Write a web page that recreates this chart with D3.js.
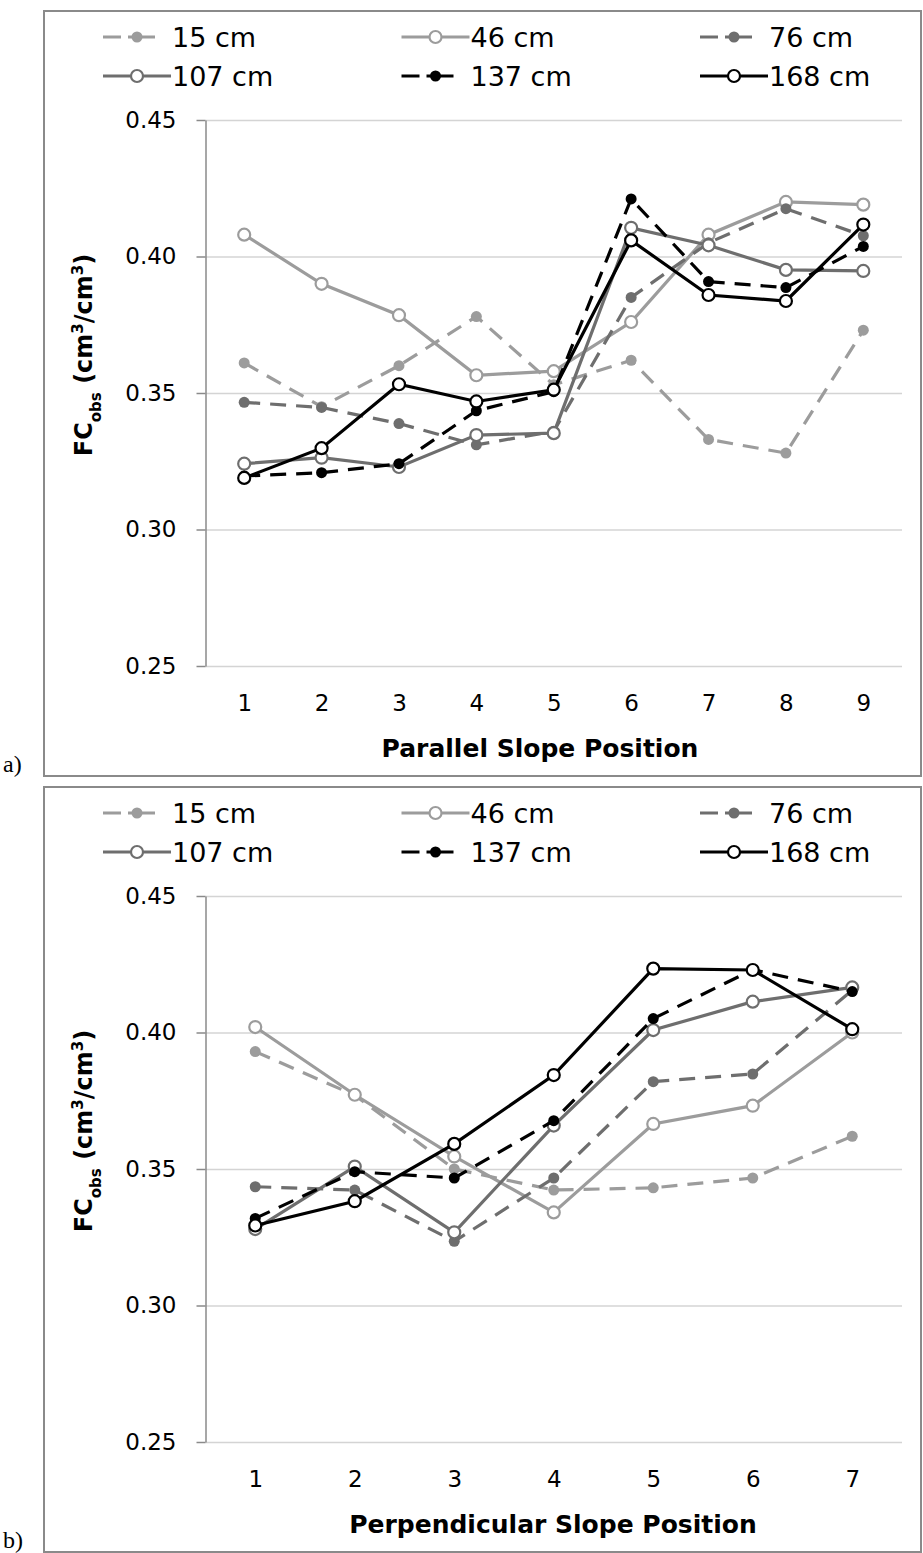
<!DOCTYPE html>
<meta charset="utf-8">
<title>FC obs by slope position</title>
<style>
  body { margin: 0; background: #fff; }
  text { font-family: "DejaVu Sans", sans-serif; fill: #000; }
</style>
<body>
<svg id="chart" width="923" height="1553"></svg>
<script src="https://d3js.org/d3.v7.min.js"></script>
<script>

// depths (legend order)
var depths = ["15 cm", "46 cm", "76 cm", "107 cm", "137 cm", "168 cm"];

// panel a: parallel slope positions
var parallelPositions = [1, 2, 3, 4, 5, 6, 7, 8, 9];
var par15  = [0.361, 0.345, 0.360, 0.378, 0.353, 0.362, 0.333, 0.328, 0.373];
var par46  = [0.408, 0.390, 0.3785, 0.3565, 0.358, 0.376, 0.408, 0.420, 0.419];
var par76  = [0.3466, 0.3447, 0.3388, 0.331, 0.336, 0.385, 0.405, 0.4175, 0.4076];
var par107 = [0.3241, 0.3263, 0.3229, 0.3346, 0.3353, 0.4105, 0.4041, 0.3951, 0.3947];
var par137 = [0.3196, 0.3208, 0.3241, 0.3435, 0.3505, 0.4211, 0.3908, 0.3886, 0.4037];
var par168 = [0.3189, 0.3298, 0.3532, 0.3469, 0.3512, 0.4059, 0.3859, 0.3837, 0.4117];

// panel b: perpendicular slope positions
var perpendicularPositions = [1, 2, 3, 4, 5, 6, 7];
var perp15  = [0.393, 0.377, 0.350, 0.3423, 0.3431, 0.3467, 0.362];
var perp46  = [0.402, 0.3772, 0.3546, 0.3341, 0.3665, 0.3732, 0.400];
var perp76  = [0.3435, 0.3423, 0.3235, 0.3467, 0.382, 0.3848, 0.4155];
var perp107 = [0.328, 0.3509, 0.3268, 0.3659, 0.4009, 0.4113, 0.4165];
var perp137 = [0.3319, 0.349, 0.3467, 0.3677, 0.4051, 0.423, 0.415];
var perp168 = [0.3293, 0.3382, 0.3592, 0.3844, 0.4234, 0.4229, 0.4012];

var yTicks = [0.25, 0.30, 0.35, 0.40, 0.45];

// look of each depth series
var lightGray = "#9c9c9c", darkGray = "#6e6e6e";
var styles = [
  {color: lightGray, dashed: true,  open: false},
  {color: lightGray, dashed: false, open: true},
  {color: darkGray,  dashed: true,  open: false},
  {color: darkGray,  dashed: false, open: true},
  {color: "#000",    dashed: true,  open: false},
  {color: "#000",    dashed: false, open: true}
];

var svg = d3.select("#chart");

var plotLeft = 205.5, plotRight = 902, plotTop = 120, plotBottom = 666;

function drawPanel(offset, positions, series, title, titleX, tag) {
  var g = svg.append("g").attr("transform", "translate(0," + offset + ")");

  // frame round the panel
  g.append("rect")
    .attr("x", 44).attr("y", 11)
    .attr("width", 877).attr("height", 765)
    .attr("fill", "none")
    .attr("stroke", "#8a8a8a")
    .attr("stroke-width", 2);

  g.append("text")
    .attr("x", 3).attr("y", 772)
    .style("font-family", "'Liberation Serif', serif")
    .style("font-size", "24px")
    .text(tag);

  var x = d3.scalePoint()
    .domain(positions)
    .range([plotLeft, plotRight])
    .padding(0.5);

  var y = d3.scaleLinear()
    .domain([0.25, 0.45])
    .range([plotBottom, plotTop]);

  // gridlines
  g.append("g")
    .attr("transform", "translate(" + plotLeft + ",0)")
    .call(d3.axisLeft(y).tickValues(yTicks).tickSize(-(plotRight - plotLeft)).tickFormat(""))
    .call(function (s) {
      s.select(".domain").remove();
      s.selectAll("line").attr("stroke", "#d4d4d4").attr("stroke-width", 1.5);
    });

  // y axis
  g.append("g")
    .attr("transform", "translate(" + plotLeft + ",0)")
    .call(d3.axisLeft(y).tickValues(yTicks).tickFormat(d3.format(".2f"))
      .tickSize(9).tickSizeOuter(0).tickPadding(20))
    .call(function (s) {
      s.select(".domain").attr("stroke", "#8a8a8a").attr("stroke-width", 1.5);
      s.selectAll("line").attr("stroke", "#8a8a8a").attr("stroke-width", 1.5);
      s.selectAll("text").style("font-size", "23px").attr("font-family", null);
    });

  // x axis labels
  g.append("g")
    .attr("transform", "translate(0," + plotBottom + ")")
    .call(d3.axisBottom(x).tickSize(0).tickPadding(29))
    .call(function (s) {
      s.select(".domain").remove();
      s.selectAll("text").style("font-size", "23px").attr("font-family", null);
    });

  g.append("text")
    .attr("x", titleX).attr("y", 757)
    .attr("text-anchor", "middle")
    .style("font-size", "25px")
    .style("font-weight", "bold")
    .text(title);

  var yt = g.append("text")
    .attr("transform", "translate(92,355) rotate(-90)")
    .attr("text-anchor", "middle")
    .style("font-size", "24px")
    .style("font-weight", "bold");
  yt.append("tspan").text("FC");
  yt.append("tspan").attr("baseline-shift", "sub").style("font-size", "15px").text("obs");
  yt.append("tspan").text(" (cm");
  yt.append("tspan").attr("baseline-shift", "super").style("font-size", "15px").text("3");
  yt.append("tspan").text("/cm");
  yt.append("tspan").attr("baseline-shift", "super").style("font-size", "15px").text("3");
  yt.append("tspan").text(")");

  var line = d3.line()
    .x(function (d, i) { return x(positions[i]); })
    .y(function (d) { return y(d); });

  series.forEach(function (vals, k) {
    var st = styles[k];
    var sg = g.append("g");
    sg.append("path")
      .datum(vals)
      .attr("d", line)
      .attr("fill", "none")
      .attr("stroke", st.color)
      .attr("stroke-width", 3.2)
      .attr("stroke-dasharray", st.dashed ? "16,10" : null);
    sg.selectAll("circle")
      .data(vals)
      .enter().append("circle")
        .attr("cx", function (d, i) { return x(positions[i]); })
        .attr("cy", function (d) { return y(d); })
        .attr("r", st.open ? 6 : 5.5)
        .attr("fill", st.open ? "#fff" : st.color)
        .attr("stroke", st.color)
        .attr("stroke-width", st.open ? 2.2 : 0);
  });

  // legend: 3 columns x 2 rows
  depths.forEach(function (name, k) {
    var st = styles[k];
    var col = k % 3, row = Math.floor(k / 3);
    var lx = 103 + col * 298.5;
    var ly = 37 + row * 39;
    var lg = g.append("g");
    lg.append("line")
      .attr("x1", lx).attr("x2", st.dashed ? lx + 52 : lx + 68)
      .attr("y1", ly).attr("y2", ly)
      .attr("stroke", st.color)
      .attr("stroke-width", 3.2)
      .attr("stroke-dasharray", st.dashed ? "18,7,30" : null);
    lg.append("circle")
      .attr("cx", lx + 34).attr("cy", ly)
      .attr("r", st.open ? 6 : 5.5)
      .attr("fill", st.open ? "#fff" : st.color)
      .attr("stroke", st.color)
      .attr("stroke-width", st.open ? 2.2 : 0);
    lg.append("text")
      .attr("x", lx + 69).attr("y", ly + 10)
      .style("font-size", "27px")
      .text(name);
  });
}

drawPanel(0, parallelPositions,
  [par15, par46, par76, par107, par137, par168],
  "Parallel Slope Position", 540, "a)");

drawPanel(776, perpendicularPositions,
  [perp15, perp46, perp76, perp107, perp137, perp168],
  "Perpendicular Slope Position", 553, "b)");

</script>
</body>
